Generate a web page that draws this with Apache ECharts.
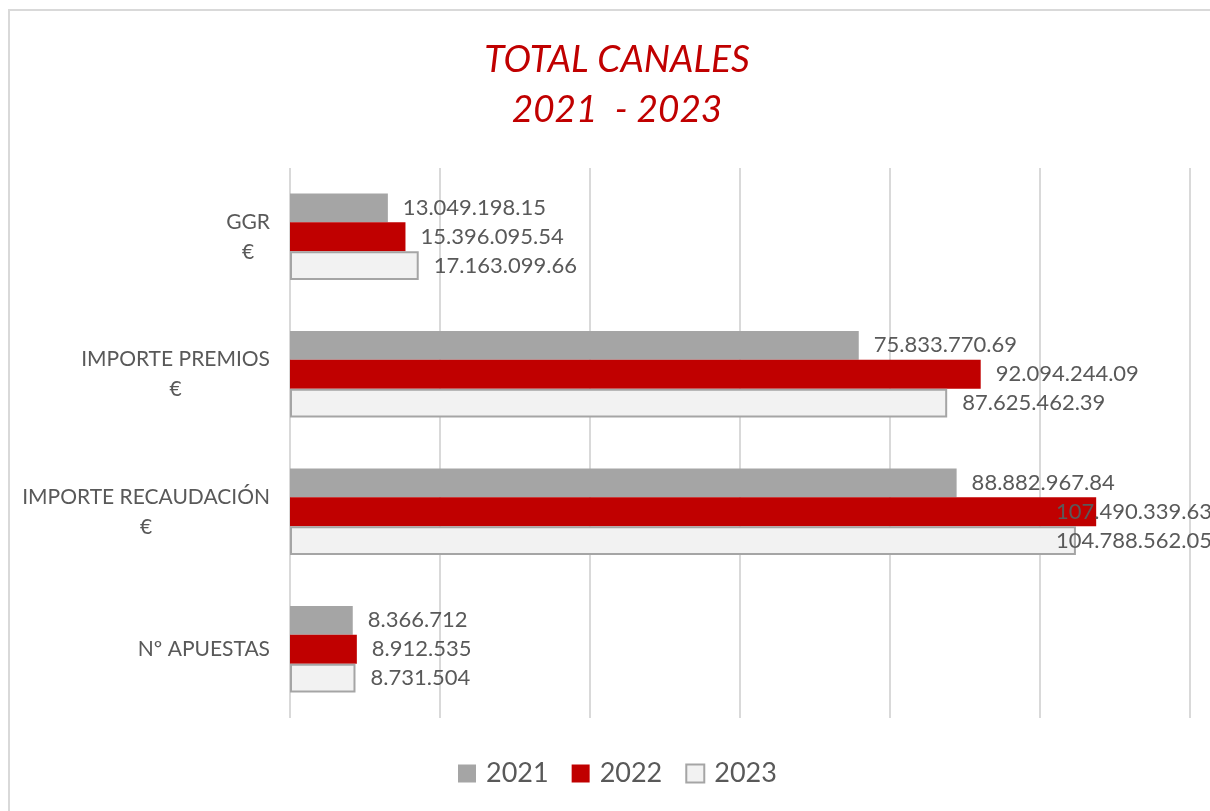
<!DOCTYPE html>
<html>
<head>
<meta charset="utf-8">
<script src="https://cdn.jsdelivr.net/npm/echarts@6/dist/echarts.min.js"></script>
<style>
  html, body { margin: 0; padding: 0; background: #fff; }
  #chart { width: 1210px; height: 811px; }
</style>
</head>
<body>
<div id="chart"></div>
<script>
// categories top to bottom (axis is inverted)
const categories = ['GGR\n€', 'IMPORTE PREMIOS\n€', 'IMPORTE RECAUDACIÓN\n€', 'Nº APUESTAS']
const years = ['2021', '2022', '2023']
const values2021 = [13049198.15, 75833770.69, 88882967.84, 8366712]
const values2022 = [15396095.54, 92094244.09, 107490339.63, 8912535]
const values2023 = [17163099.66, 87625462.39, 104788562.05, 8731504]

const FONT = 'Lato, "Noto Sans", sans-serif'
const W = 1210

// 13049198.15 -> "13.049.198.15"
const fmt = (v) => {
  const intPart = Math.floor(v)
  const s = String(intPart).replace(/\B(?=(\d{3})+(?!\d))/g, '.')
  if (Number.isInteger(v)) return s
  const dec = Math.round((v - intPart) * 100)
  return s + '.' + String(dec).padStart(2, '0')
}

const chart = echarts.init(document.getElementById('chart'))

const barLabel = {
  show: true,
  position: 'right',
  distance: 15,
  color: '#595959',
  fontSize: 22,
  fontFamily: FONT,
  formatter: (p) => fmt(p.value)
}

const makeSeries = (name, data, itemStyle) => ({
  name,
  type: 'bar',
  data,
  barGap: 0,
  barCategoryGap: '37%',
  itemStyle,
  label: barLabel
})

chart.setOption({
  animation: false,
  backgroundColor: '#fff',
  graphic: [{
    type: 'rect',
    shape: { x: 9, y: 10, width: 1400, height: 1000 },
    style: { fill: 'none', stroke: '#d9d9d9', lineWidth: 2 },
    z: -1
  }],
  title: {
    text: 'TOTAL CANALES\n2021  - 2023',
    left: 612,
    textAlign: 'center',
    top: 30,
    textStyle: {
      fontFamily: FONT,
      fontStyle: 'italic',
      fontWeight: 'normal',
      fontSize: 37,
      lineHeight: 50,
      color: '#c00000'
    }
  },
  legend: {
    data: years,
    bottom: 19,
    left: 453,
    icon: 'rect',
    itemWidth: 18,
    itemHeight: 18,
    itemGap: 23,
    textStyle: { fontFamily: FONT, fontSize: 27, color: '#595959', padding: [0, 0, 0, 5] }
  },
  grid: { left: 290, right: 20, top: 168, bottom: 93, containLabel: false },
  xAxis: {
    type: 'value',
    min: 0,
    max: 120000000,
    interval: 20000000,
    axisLabel: { show: false },
    axisLine: { show: false },
    axisTick: { show: false },
    splitLine: { lineStyle: { color: '#d9d9d9', width: 2 } }
  },
  yAxis: {
    type: 'category',
    inverse: true,
    data: categories,
    axisLine: { show: false },
    axisTick: { show: false },
    axisLabel: {
      margin: 20,
      color: '#595959',
      fontFamily: FONT,
      fontSize: 21,
      lineHeight: 30,
      formatter: (v) => v.split('\n').map(l => '{c|' + l + '}').join('\n'),
      rich: { c: { align: 'center', fontFamily: FONT, fontSize: 21, lineHeight: 30, color: '#595959' } }
    }
  },
  labelLayout: (p) => {
    // push labels that run past the right edge back inside, like the original
    const over = p.labelRect.x + p.labelRect.width - (W + 2)
    if (over > 0) return { dx: -over }
  },
  series: [
    makeSeries('2021', values2021, { color: '#a5a5a5' }),
    makeSeries('2022', values2022, { color: '#c00000' }),
    makeSeries('2023', values2023, { color: '#f2f2f2', borderColor: '#a5a5a5', borderWidth: 2 })
  ]
})
</script>
</body>
</html>
